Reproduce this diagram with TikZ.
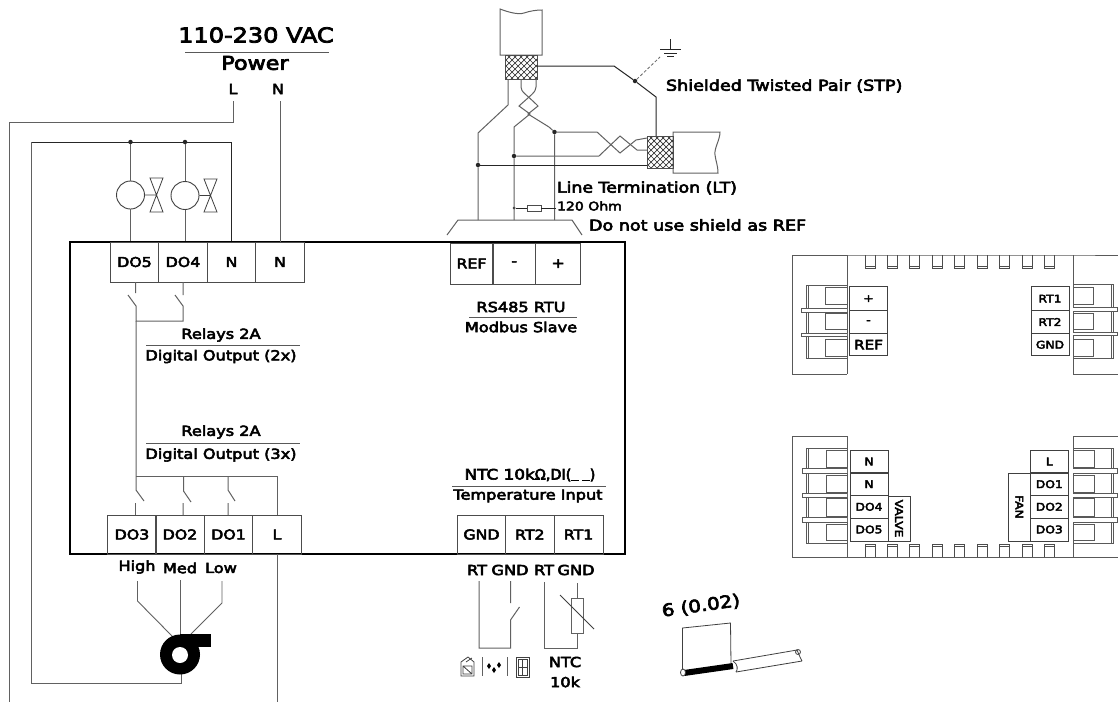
\documentclass[tikz,border=0pt]{standalone}
\usepackage{fontspec}
\setmainfont{DejaVu Sans}[FakeBold=4,FakeStretch=1.17]
\begin{document}
\begin{tikzpicture}[x=1pt,y=-1pt,
  wire/.style={draw=black!62,line width=1pt},
  bwire/.style={draw=black!85,line width=1pt},
  thin line/.style={draw=black!75,line width=0.8pt},
  rule/.style={draw=black!65,line width=1pt},
  lab/.style={inner sep=0pt,outer sep=0pt,font=\fontsize{13.8}{15}\selectfont},
  term/.style={draw=black!70,line width=1pt,inner sep=0pt,outer sep=0pt,font=\fontsize{13.5}{15}\selectfont},
  sterm/.style={draw=black!75,line width=1pt,inner sep=0pt,outer sep=0pt,font=\fontsize{10.5}{12}\selectfont},
  dot/.style={circle,fill=black!85,inner sep=0pt,minimum size=4.5pt},
  unit/.style={draw=black!65,line width=1pt},
]
\useasboundingbox (0,0) rectangle (1118,702);
\fill[white] (0,0) rectangle (1118,702);
% ---------- title
\node[lab,font=\fontsize{20.5}{22}\selectfont] (title) at (256,35) {110-230 VAC};
\draw[rule] (185,52) -- (329,52);
\node[lab,font=\fontsize{19}{21}\selectfont] (power) at (255,63) {Power};
\node[lab] (lblL) at (233,89) {L};
\node[lab] (lblN) at (278,89) {N};
% ---------- main box
\draw[black,line width=2.6pt] (70,242) rectangle (625,554);
\foreach \n/\c/\t in {d5/134.5/DO5,d4/183/DO4,n1/231.5/N,n2/280/N}
  \node[term,minimum width=48.5,minimum height=40,anchor=center] (\n) at (\c,262) {\t};
\foreach \n/\c/\t in {d3/132/DO3,d2/180/DO2,d1/228.5/DO1,tl/277/L}
  \node[term,minimum width=48.5,minimum height=39,anchor=center] (\n) at (\c,534.5) {\t};
\node[term,minimum width=43,minimum height=41] (tref) at (471.5,263.5) {REF};
\node[term,minimum width=42.5,minimum height=41] (tm) at (514.2,263.5) {-};
\node[term,minimum width=45.5,minimum height=41] (tp) at (558.2,263.5) {+};
\node[term,minimum width=48,minimum height=39] (g) at (481.5,534.5) {GND};
\node[term,minimum width=48.5,minimum height=39] (r2) at (529.8,534.5) {RT2};
\node[term,minimum width=49,minimum height=39] (r1) at (578.5,534.5) {RT1};
% ---------- power wires
\draw[wire] (233,101) -- (233,122) -- (9,122) -- (9,702);
\draw[wire] (n2.north |- 0,101) -- (n2.north);
\draw[bwire] (231,241) -- (231,142) -- (31,142);
\draw[wire] (31,142) -- (31,683) -- (181,683) -- (181,672);
\node[dot] (j1) at (130.5,142) {};
\node[dot] (j2) at (185,142) {};
% valves
\node[circle,draw=black!75,line width=0.9pt,minimum size=28pt,inner sep=0pt] (v1) at (130.5,195) {};
\node[circle,draw=black!75,line width=0.9pt,minimum size=28pt,inner sep=0pt] (v2) at (185,195.5) {};
\draw[wire] (j1) -- (v1.north) (v1.south) -- (130.5,241);
\draw[wire] (j2) -- (v2.north) (v2.south) -- (185,241);
\draw[thin line] (v1.east) -- (157,195) (150,178) -- (163,178) -- (150,212) -- (163,212) -- cycle;
\draw[thin line] (v2.east) -- (211,195.5) (204,179) -- (217,179) -- (204,212) -- (217,212) -- cycle;
% upper relays
\draw[wire] (135.5,282) -- (135.5,293) (128,295) -- (136,306) -- (136,321) -- (183,321) -- (183,306) -- (175,295) (183,282) -- (183,295);
\draw[wire] (136,321) -- (136,490) -- (144,501);
\draw[wire] (135,503) -- (135,515);
\draw[wire] (136,476) -- (277,476) -- (tl.north);
\draw[wire] (183.5,476) -- (183.5,491) -- (191,502) (183,503) -- (183,515);
\draw[wire] (228,476) -- (228,490) -- (235,501) (228,503) -- (228,515);
\draw[wire] (tl.south) -- (277,702);
% labels inside
\node[lab] (rel1) at (221,335) {Relays 2A};
\draw[rule] (146,345.5) -- (300,345.5);
\node[lab] (do1) at (221,356.5) {Digital Output (2x)};
\node[lab] (rel2) at (221,432) {Relays 2A};
\draw[rule] (146,443) -- (300,443);
\node[lab] (do2) at (221,455) {Digital Output (3x)};
\node[lab] (rs1) at (521,307) {RS485 RTU};
\draw[rule] (469,317) -- (577,317);
\node[lab] (rs2) at (521,327) {Modbus Slave};
\node[lab,font=\fontsize{14.4}{16}\selectfont] (ntc1) at (530,475) {NTC 10k\fontspec{DejaVu Sans}[FakeBold=4]\symbol{"03A9},DI(\raisebox{-1pt}{\rule{8pt}{0.5pt}\,\rule{8pt}{0.5pt}})};
\draw[rule] (452,486.5) -- (606,486.5);
\node[lab] (ntc2) at (528,496) {Temperature Input};
% fan
\node[lab] (high) at (137,567) {High};
\node[lab] (med) at (180,568) {Med};
\node[lab] (low) at (221,568) {Low};
\draw[wire,line width=0.9pt] (137.5,581) -- (137.5,601) -- (172,636);
\draw[wire] (180,580) -- (180,634);
\draw[wire,line width=0.9pt] (222,581) -- (222,603) -- (191,634);
\fill[black] (180,654.5) circle (20);
\fill[black] (180,634) rectangle (211,646.5);
\fill[white] (180,655) circle (8);
% sensors
\node[lab] (srt1) at (477,570) {RT};
\node[lab] (sg1) at (510,570) {GND};
\node[lab] (srt2) at (544,570) {RT};
\node[lab] (sg2) at (576,570) {GND};
\draw[wire] (479,581) -- (479,648) -- (510.5,648) -- (510.5,620) -- (519.5,607) (510.5,581) -- (510.5,603);
\draw[wire] (544,582) -- (544,648) -- (577,648) -- (577,633) (577,583) -- (577,598);
\draw[wire] (571,598) rectangle (583.5,633);
\draw[thin line] (560,595) -- (594,629);
\node[lab] (ntcA) at (565,662) {NTC};
\node[lab] (ntcB) at (565,682) {10k};
% icons
\draw[black!75,line width=0.8pt] (461,676) -- (461,662) -- (468,657) -- (474,662) -- (474,676) -- cycle (463,666) rectangle (472,674) (463,666) -- (472,674) (466,662) -- (472,658);
\draw[wire] (482,657) -- (482,676) (507,657) -- (507,676);
\fill[black] (489,663) -- (491,666) -- (489,669) -- (487,666) -- cycle (494,667) -- (496,670) -- (494,673) -- (492,670) -- cycle (499,662) -- (501,665) -- (499,668) -- (497,665) -- cycle;
\draw[black!75,line width=0.8pt] (516,657) rectangle (529,677) (518,659) rectangle (527,675) (522.5,659) -- (522.5,675) (518,667) -- (527,667);
% strip length
\node[lab,rotate=8,font=\fontsize{17}{19}\selectfont] (strip) at (701,606) {6 (0.02)};
\draw[thin line] (682.5,672) -- (682.5,628) -- (730.5,623) -- (731,665);
\draw[black,line width=6pt] (684,673) -- (733,666);
\draw[thin line,fill=white] (683,672.5) ellipse (2.5 and 3.5);
\draw[thin line] (733,661) -- (797,650) (736,672) -- (802,661) (797,650) -- (800,657) -- (802,661);
\draw[thin line] (733,661) .. controls (738,664) and (738,670) .. (736,672);
\draw[thin line] (798,652) circle (2.5);
% ---------- RS485 wiring
\draw[wire] (447,235) -- (458,220) -- (572,220) -- (582,235);
\draw[wire,fill=white] (500,9) .. controls (508,12) and (518,15) .. (524,13) .. controls (530,11) and (536,10) .. (542,10) -- (542,55) -- (500,55) -- cycle;
\draw[wire,fill=white] (673,132) -- (720,132) .. controls (720,140) and (714,148) .. (715,155) .. controls (716,162) and (718,166) .. (718,173) -- (673,173) -- cycle;
% shields
\begin{scope}
\clip (505,55) rectangle (537,79);
\foreach \k in {-40,-34,...,60} {\draw[black!80,line width=0.7pt] (505+\k,55) -- (505+\k+30,85); \draw[black!80,line width=0.7pt] (537-\k,55) -- (537-\k-30,85);}
\end{scope}
\draw[black!70,line width=1pt] (505,55) rectangle (537,79);
\begin{scope}
\clip (647,136) rectangle (673,168);
\foreach \k in {-40,-34,...,60} {\draw[black!80,line width=0.7pt] (647+\k,136) -- (647+\k+35,171); \draw[black!80,line width=0.7pt] (673-\k,136) -- (673-\k-35,171);}
\end{scope}
\draw[black!70,line width=1pt] (647,136) rectangle (673,168);
% wires from shields
\node[dot] (jA) at (554.5,132) {};
\node[dot] (jB) at (514,156) {};
\node[dot] (jC) at (478,165) {};
\node[dot,minimum size=3pt] (jD) at (514,208) {};
\node[dot] (jE) at (635,81) {};
\draw[wire] (508,79) -- (508,105) -- (478,133) -- (jC) -- (478,220);
\draw[wire] (521,79) -- (521,87) .. controls (521,92) and (526,94) .. (538,106) -- (528,114) -- (549,127) -- (jA) -- (554.5,220);
\draw[wire] (536,79) -- (536,87) .. controls (536,92) and (531,95) .. (519,106) -- (530,114) -- (514,127) -- (jB) -- (514,220);
\draw[bwire] (jC) -- (647,165);
\draw[bwire] (537,66) -- (614,66) -- (jE) -- (656,97) -- (656,136);
\draw[wire] (jA) -- (597,132) -- (620,153) -- (636,140) -- (647,138);
\draw[wire] (jB) -- (599,156) -- (620,136) -- (637,150) -- (647,150);
\draw[black!60,densely dashed,line width=0.8pt] (jE) -- (660,57);
\draw[bwire] (670,39) -- (670,49) (660,49) -- (681,49) (664,53) -- (677,53) (667,56.5) -- (674,56.5);
\node[lab,anchor=west,font=\fontsize{15}{17}\selectfont] (stp) at (666,86) {Shielded Twisted Pair (STP)};
\node[lab,anchor=west,font=\fontsize{14.8}{17}\selectfont] (lt) at (557,188) {Line Termination (LT)};
\node[lab,anchor=west,font=\fontsize{12}{14}\selectfont] (ohm) at (557,206) {120 Ohm};
\node[lab,anchor=west,font=\fontsize{15}{17}\selectfont] (nosh) at (589,225) {Do not use shield as REF};
\node[draw=black!70,line width=0.9pt,minimum width=14,minimum height=6,inner sep=0pt,outer sep=0pt] (res) at (534,208) {};
\draw[bwire,line width=0.8pt] (jD) -- (res.west) (res.east) -- (555.5,208);
% ---------- right unit
\draw[unit] (847,255) -- (847,374) (847,436) -- (847,557) (1073,255) -- (1073,374) (1073,436) -- (1073,557);
\draw[unit] (847,255) -- (792,255) -- (792,374) -- (847,374) (792,436) -- (847,436);
\draw[unit] (792,436) -- (792,557) -- (847,557) -- (1073,557) -- (1118,557);
\draw[unit] (847,255) -- (1073,255) -- (1118,255) (1073,374) -- (1118,374) (1073,436) -- (1118,436);
\foreach \c in {870,892,914,937,959,982,1004,1027,1049} {
  \draw[draw=black!70,line width=0.9pt] (\c-5,255) -- (\c-5,268) -- (\c+5,268) -- (\c+5,255) (\c-5,266.5) -- (\c+5,266.5);
  \draw[draw=black!70,line width=0.9pt] (\c-5,557) -- (\c-5,544) -- (\c+5,544) -- (\c+5,557) (\c-5,546) -- (\c+5,546);
}
% connector blocks, left
\draw[unit] (847,285) -- (806,285) -- (806,358) -- (847,358) (808,285) -- (808,358);
\draw[unit] (847,287) -- (825,287) -- (825,304) -- (847,304) (847,313) -- (825,313) -- (825,329) -- (847,329) (847,339) -- (825,339) -- (825,356) -- (847,356);
\draw[unit,fill=white] (847,308) -- (801,308) -- (801,312) -- (847,312) (847,333) -- (801,333) -- (801,336.5) -- (847,336.5);
\draw[unit] (847,448) -- (806,448) -- (806,543) -- (847,543) (808,448) -- (808,543);
\draw[unit] (847,450) -- (826,450) -- (826,467) -- (847,467) (847,475) -- (826,475) -- (826,492) -- (847,492) (847,498) -- (826,498) -- (826,516) -- (847,516) (847,524) -- (826,524) -- (826,540) -- (847,540);
\draw[unit,fill=white] (847,468.5) -- (802,468.5) -- (802,473) -- (847,473) (847,493) -- (802,493) -- (802,497.5) -- (847,497.5) (847,517) -- (802,517) -- (802,522) -- (847,522);
% connector blocks, right
\draw[unit] (1073,284) -- (1113,284) -- (1113,358) -- (1073,358) (1111,284) -- (1111,358);
\draw[unit] (1073,287) -- (1093,287) -- (1093,304) -- (1073,304) (1073,313) -- (1093,313) -- (1093,329) -- (1073,329) (1073,339) -- (1093,339) -- (1093,356) -- (1073,356);
\draw[unit,fill=white] (1073,307) -- (1117,307) -- (1117,311) -- (1073,311) (1073,332) -- (1117,332) -- (1117,335.5) -- (1073,335.5);
\draw[unit] (1073,448) -- (1113,448) -- (1113,543) -- (1073,543) (1111,448) -- (1111,543);
\draw[unit] (1073,450) -- (1094,450) -- (1094,467) -- (1073,467) (1073,475) -- (1094,475) -- (1094,492) -- (1073,492) (1073,498) -- (1094,498) -- (1094,516) -- (1073,516) (1073,524) -- (1094,524) -- (1094,540) -- (1073,540);
\draw[unit,fill=white] (1073,468.5) -- (1117,468.5) -- (1117,473) -- (1073,473) (1073,493) -- (1117,493) -- (1117,497.5) -- (1073,497.5) (1073,517) -- (1117,517) -- (1117,522) -- (1073,522);
% small terminals
\node[sterm,minimum width=38,minimum height=23.5] (u1) at (868.5,298.7) {+};
\node[sterm,minimum width=38,minimum height=23] (u2) at (868.5,322) {-};
\node[sterm,minimum width=38,minimum height=22.5,font=\fontsize{13}{15}\selectfont] (u3) at (868.5,344.7) {REF};
\node[sterm,minimum width=38,minimum height=23.5] (u4) at (1050,298.7) {RT1};
\node[sterm,minimum width=38,minimum height=23] (u5) at (1050,322) {RT2};
\node[sterm,minimum width=38,minimum height=22.5] (u6) at (1050,344.7) {GND};
\node[sterm,minimum width=38,minimum height=23] (u7) at (869,461.5) {N};
\node[sterm,minimum width=38,minimum height=22.5] (u8) at (869,484.2) {N};
\node[sterm,minimum width=38,minimum height=22.5] (u9) at (869,506.8) {DO4};
\node[sterm,minimum width=38,minimum height=23] (u10) at (869,529.5) {DO5};
\node[sterm,minimum width=22,minimum height=45] (valve) at (899,518.5) {\rotatebox{-90}{VALVE}};
\node[sterm,minimum width=37.5,minimum height=23] (u11) at (1049.3,461.5) {L};
\node[sterm,minimum width=37.5,minimum height=22.5] (u12) at (1049.3,484.2) {DO1};
\node[sterm,minimum width=37.5,minimum height=22.5] (u13) at (1049.3,506.8) {DO2};
\node[sterm,minimum width=37.5,minimum height=23] (u14) at (1049.3,529.5) {DO3};
\node[sterm,minimum width=22.5,minimum height=68] (fan) at (1019.3,507) {\rotatebox{-90}{FAN}};
\end{tikzpicture}
\end{document}
